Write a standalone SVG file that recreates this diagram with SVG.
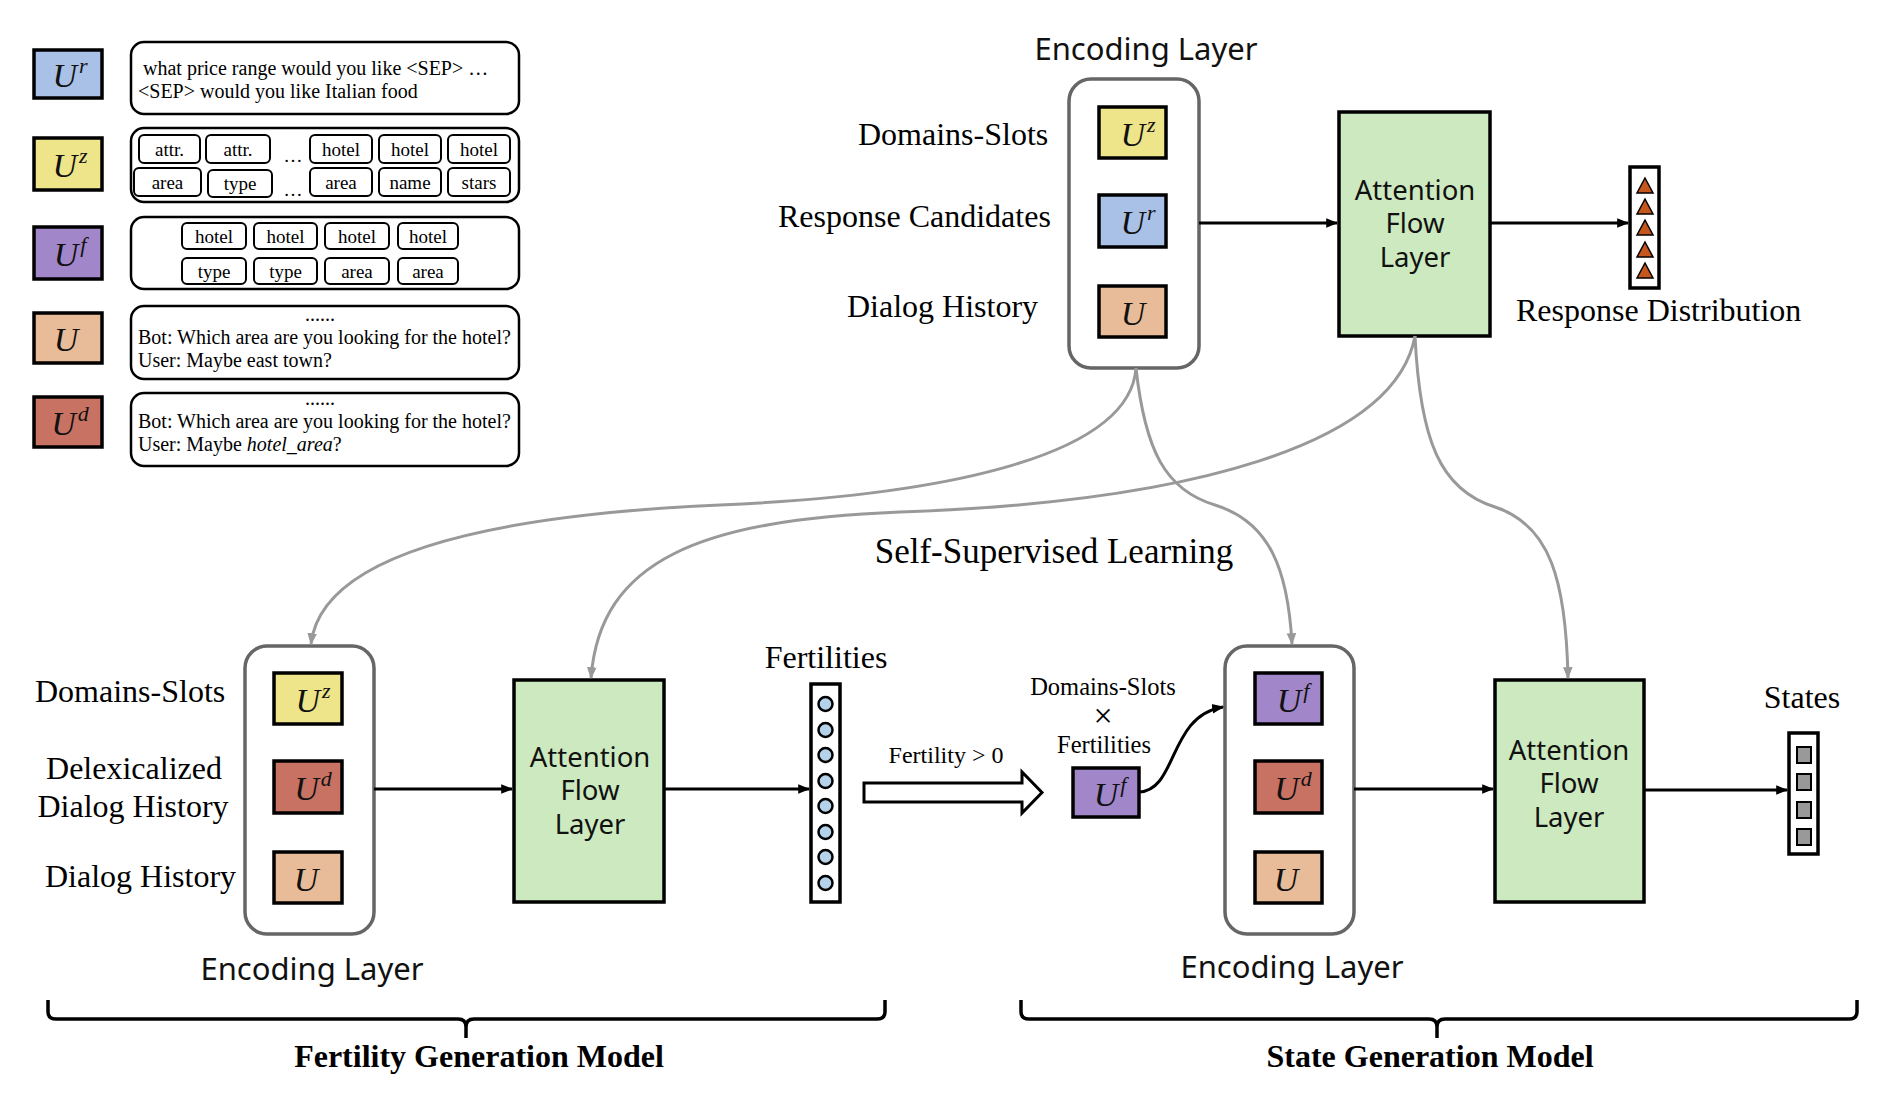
<svg xmlns="http://www.w3.org/2000/svg" width="1884" height="1094" viewBox="0 0 1884 1094">
<defs>
<style>
.serif{font-family:"Liberation Serif","Times New Roman",serif;fill:#000}
.sans{font-family:"Noto Sans","DejaVu Sans",sans-serif;fill:#111}
.lbl{font-size:32px}
.leg{font-size:20px}
.tag{font-size:19px;text-anchor:middle}
.mid{text-anchor:middle}
.u{font-family:"Liberation Serif","Times New Roman",serif;font-style:italic;font-size:34px;text-anchor:middle;fill:#111}
.sup{font-size:22px}
.ubox{stroke:#000;stroke-width:3.5}
.tbox{fill:#fff;stroke:#000;stroke-width:2.5}
.chip{fill:#fff;stroke:#000;stroke-width:2}
.cont{fill:#fff;stroke:#666;stroke-width:3.5}
.afl{fill:#cde9bf;stroke:#000;stroke-width:3.5}
.aflt{font-family:"Noto Sans","DejaVu Sans",sans-serif;fill:#111;font-size:27.5px;text-anchor:middle}
.vec{fill:#fff;stroke:#000;stroke-width:3.5}
.blk{fill:none;stroke:#000;stroke-width:3}
.gry{fill:none;stroke:#999;stroke-width:3}
.ur{fill:#a9c1e6}.uz{fill:#eee48a}.uf{fill:#a186c9}.uu{fill:#e9bc99}.ud{fill:#c87264}
.circ{fill:#b4d3ea;stroke:#000;stroke-width:2.5}
.tri{fill:#c4561e;stroke:#000;stroke-width:1.5}
.sq{fill:#999;stroke:#000;stroke-width:2}
.brace{fill:none;stroke:#000;stroke-width:3.5}
.bold{font-weight:bold;font-size:32px;text-anchor:middle}
</style>
<marker id="ab" viewBox="0 0 10 10" refX="9" refY="5" markerWidth="4" markerHeight="4" orient="auto"><path d="M0,1 L10,5 L0,9 z" fill="#000"/></marker>
<marker id="ag" viewBox="0 0 10 10" refX="9" refY="5" markerWidth="4" markerHeight="4" orient="auto"><path d="M0,1 L10,5 L0,9 z" fill="#999"/></marker>
</defs>
<rect width="1884" height="1094" fill="#fff"/>

<!-- Legend -->
<g id="legend-ur">
<rect class="ubox ur" x="34" y="50" width="68" height="48"/>
<text class="u" x="70" y="87">U<tspan class="sup" dx="2" dy="-14">r</tspan></text>
<rect class="tbox" x="131" y="42" width="388" height="72" rx="13"/>
<text class="serif leg" x="143" y="75">what price range would you like &lt;SEP&gt;  …</text>
<text class="serif leg" x="138" y="98">&lt;SEP&gt; would you like Italian food</text>
</g>
<g id="legend-uz">
<rect class="ubox uz" x="34" y="138" width="68" height="52"/>
<text class="u" x="70" y="177">U<tspan class="sup" dx="2" dy="-14">z</tspan></text>
<rect class="tbox" x="131" y="128" width="388" height="74" rx="13"/>
<rect class="chip" x="139" y="135" width="61" height="28" rx="5"/><text class="serif tag" x="169.5" y="156">attr.</text>
<rect class="chip" x="206" y="135" width="64" height="28" rx="5"/><text class="serif tag" x="238" y="156">attr.</text>
<text class="serif tag" x="293" y="162" font-size="28">…</text>
<rect class="chip" x="310" y="135" width="62" height="28" rx="5"/><text class="serif tag" x="341" y="156">hotel</text>
<rect class="chip" x="379" y="135" width="62" height="28" rx="5"/><text class="serif tag" x="410" y="156">hotel</text>
<rect class="chip" x="448" y="135" width="62" height="28" rx="5"/><text class="serif tag" x="479" y="156">hotel</text>
<rect class="chip" x="134" y="168" width="67" height="28" rx="5"/><text class="serif tag" x="167.5" y="189">area</text>
<rect class="chip" x="208" y="170" width="64" height="27" rx="5"/><text class="serif tag" x="240" y="190">type</text>
<text class="serif tag" x="293" y="196" font-size="28">…</text>
<rect class="chip" x="310" y="168" width="62" height="28" rx="5"/><text class="serif tag" x="341" y="189">area</text>
<rect class="chip" x="379" y="168" width="62" height="28" rx="5"/><text class="serif tag" x="410" y="189">name</text>
<rect class="chip" x="448" y="168" width="62" height="28" rx="5"/><text class="serif tag" x="479" y="189">stars</text>
</g>
<g id="legend-uf">
<rect class="ubox uf" x="34" y="227" width="68" height="52"/>
<text class="u" x="70" y="266">U<tspan class="sup" dx="2" dy="-14">f</tspan></text>
<rect class="tbox" x="131" y="217" width="388" height="72" rx="13"/>
<rect class="chip" x="182" y="223" width="64" height="26" rx="5"/><text class="serif tag" x="214" y="243">hotel</text>
<rect class="chip" x="254" y="223" width="63" height="26" rx="5"/><text class="serif tag" x="285.5" y="243">hotel</text>
<rect class="chip" x="325" y="223" width="64" height="26" rx="5"/><text class="serif tag" x="357" y="243">hotel</text>
<rect class="chip" x="398" y="223" width="60" height="26" rx="5"/><text class="serif tag" x="428" y="243">hotel</text>
<rect class="chip" x="182" y="258" width="64" height="26" rx="5"/><text class="serif tag" x="214" y="278">type</text>
<rect class="chip" x="254" y="258" width="63" height="26" rx="5"/><text class="serif tag" x="285.5" y="278">type</text>
<rect class="chip" x="325" y="258" width="64" height="26" rx="5"/><text class="serif tag" x="357" y="278">area</text>
<rect class="chip" x="398" y="258" width="60" height="26" rx="5"/><text class="serif tag" x="428" y="278">area</text>
</g>
<g id="legend-u">
<rect class="ubox uu" x="34" y="313" width="68" height="50"/>
<text class="u" x="66" y="351">U</text>
<rect class="tbox" x="131" y="306" width="388" height="73" rx="13"/>
<text class="serif leg mid" x="320" y="321">......</text>
<text class="serif leg" x="138" y="344">Bot: Which area are you looking for the hotel?</text>
<text class="serif leg" x="138" y="367">User: Maybe east town?</text>
</g>
<g id="legend-ud">
<rect class="ubox ud" x="34" y="397" width="68" height="50"/>
<text class="u" x="70" y="435">U<tspan class="sup" dx="2" dy="-14">d</tspan></text>
<rect class="tbox" x="131" y="393" width="388" height="73" rx="13"/>
<text class="serif leg mid" x="320" y="405">......</text>
<text class="serif leg" x="138" y="428">Bot: Which area are you looking for the hotel?</text>
<text class="serif leg" x="138" y="451">User: Maybe <tspan font-style="italic">hotel_area</tspan>?</text>
</g>

<!-- Top encoding layer -->
<g id="top-encoding">
<text class="sans mid" x="1146" y="60" font-size="31">Encoding Layer</text>
<rect class="cont" x="1069" y="79" width="130" height="289" rx="22"/>
<rect class="ubox uz" x="1099" y="107" width="67" height="51"/>
<text class="u" x="1138" y="146">U<tspan class="sup" dx="2" dy="-14">z</tspan></text>
<rect class="ubox ur" x="1099" y="195" width="67" height="52"/>
<text class="u" x="1138" y="234">U<tspan class="sup" dx="2" dy="-14">r</tspan></text>
<rect class="ubox uu" x="1099" y="286" width="67" height="51"/>
<text class="u" x="1133" y="325">U</text>
<text class="serif lbl" x="858" y="145">Domains-Slots</text>
<text class="serif lbl" x="778" y="227">Response Candidates</text>
<text class="serif lbl" x="847" y="317">Dialog History</text>
</g>
<g id="top-afl">
<rect class="afl" x="1339" y="112" width="151" height="224"/>
<text class="aflt" x="1415" y="200">Attention</text>
<text class="aflt" x="1415" y="233">Flow</text>
<text class="aflt" x="1415" y="267">Layer</text>
</g>
<g id="response-distribution">
<rect class="vec" x="1630" y="167" width="29" height="121"/>
<path class="tri" d="M1645,178 L1653,193 L1637,193 Z"/>
<path class="tri" d="M1645,199 L1653,214 L1637,214 Z"/>
<path class="tri" d="M1645,220 L1653,235 L1637,235 Z"/>
<path class="tri" d="M1645,242 L1653,257 L1637,257 Z"/>
<path class="tri" d="M1645,263 L1653,278 L1637,278 Z"/>
<text class="serif lbl" x="1516" y="321">Response Distribution</text>
</g>

<!-- Fertility generation model -->
<g id="fert-encoding">
<rect class="cont" x="245" y="646" width="129" height="288" rx="22"/>
<rect class="ubox uz" x="274" y="673" width="68" height="51"/>
<text class="u" x="313" y="712">U<tspan class="sup" dx="2" dy="-14">z</tspan></text>
<rect class="ubox ud" x="274" y="761" width="68" height="52"/>
<text class="u" x="313" y="800">U<tspan class="sup" dx="2" dy="-14">d</tspan></text>
<rect class="ubox uu" x="274" y="852" width="68" height="51"/>
<text class="u" x="306" y="891">U</text>
<text class="serif lbl" x="35" y="702">Domains-Slots</text>
<text class="serif lbl mid" x="134" y="779">Delexicalized</text>
<text class="serif lbl mid" x="133" y="817">Dialog History</text>
<text class="serif lbl" x="45" y="887">Dialog History</text>
<text class="sans mid" x="312" y="980" font-size="31">Encoding Layer</text>
</g>
<g id="fert-afl">
<rect class="afl" x="514" y="680" width="150" height="222"/>
<text class="aflt" x="590" y="767">Attention</text>
<text class="aflt" x="590" y="800">Flow</text>
<text class="aflt" x="590" y="834">Layer</text>
</g>
<g id="fertilities">
<rect class="vec" x="811" y="684" width="29" height="218"/>
<circle class="circ" cx="825.5" cy="704" r="7"/>
<circle class="circ" cx="825.5" cy="730" r="7"/>
<circle class="circ" cx="825.5" cy="755" r="7"/>
<circle class="circ" cx="825.5" cy="781" r="7"/>
<circle class="circ" cx="825.5" cy="806" r="7"/>
<circle class="circ" cx="825.5" cy="832" r="7"/>
<circle class="circ" cx="825.5" cy="857" r="7"/>
<circle class="circ" cx="825.5" cy="883" r="7"/>
<text class="serif lbl mid" x="826" y="668">Fertilities</text>
</g>
<g id="fertility-filter">
<path d="M864,783 L1022,783 L1022,772 L1042,792.5 L1022,813 L1022,802 L864,802 Z" fill="#fff" stroke="#000" stroke-width="3"/>
<text class="serif mid" x="946" y="763" font-size="24">Fertility &gt; 0</text>
</g>
<g id="uf-input">
<text class="serif mid" x="1103" y="695" font-size="24.5">Domains-Slots</text>
<text class="serif mid" x="1103" y="727" font-size="34">×</text>
<text class="serif mid" x="1104" y="753" font-size="24.5">Fertilities</text>
<rect class="ubox uf" x="1073" y="768" width="66" height="49"/>
<text class="u" x="1110" y="806">U<tspan class="sup" dx="2" dy="-14">f</tspan></text>
</g>

<!-- State generation model -->
<g id="state-encoding">
<rect class="cont" x="1225" y="646" width="129" height="288" rx="22"/>
<rect class="ubox uf" x="1255" y="673" width="67" height="51"/>
<text class="u" x="1293" y="712">U<tspan class="sup" dx="2" dy="-14">f</tspan></text>
<rect class="ubox ud" x="1255" y="761" width="67" height="52"/>
<text class="u" x="1293" y="800">U<tspan class="sup" dx="2" dy="-14">d</tspan></text>
<rect class="ubox uu" x="1255" y="852" width="67" height="51"/>
<text class="u" x="1286" y="891">U</text>
<text class="sans mid" x="1292" y="978" font-size="31">Encoding Layer</text>
</g>
<g id="state-afl">
<rect class="afl" x="1495" y="680" width="149" height="222"/>
<text class="aflt" x="1569" y="760">Attention</text>
<text class="aflt" x="1569" y="793">Flow</text>
<text class="aflt" x="1569" y="827">Layer</text>
</g>
<g id="states">
<rect class="vec" x="1789" y="733" width="29" height="121"/>
<rect class="sq" x="1797" y="747" width="14" height="16"/>
<rect class="sq" x="1797" y="774" width="14" height="16"/>
<rect class="sq" x="1797" y="802" width="14" height="16"/>
<rect class="sq" x="1797" y="829" width="14" height="16"/>
<text class="serif lbl mid" x="1802" y="708">States</text>
</g>

<text class="serif mid" x="1054" y="563" font-size="35">Self-Supervised Learning</text>

<!-- Connectors -->
<g id="connectors">
<path class="blk" d="M1199,223 L1337,223" marker-end="url(#ab)"/>
<path class="blk" d="M1490,223 L1628,223" marker-end="url(#ab)"/>
<path class="blk" d="M374,789 L512,789" marker-end="url(#ab)"/>
<path class="blk" d="M664,789 L809,789" marker-end="url(#ab)"/>
<path class="blk" d="M1354,789 L1493,789" marker-end="url(#ab)"/>
<path class="blk" d="M1644,790 L1787,790" marker-end="url(#ab)"/>
<path class="blk" d="M1139,792 C1178,790 1168,716 1223,707" marker-end="url(#ab)"/>
<path class="gry" d="M1136,368 C1130,455 950,495 720,505 C450,517 320,565 311,644" marker-end="url(#ag)"/>
<path class="gry" d="M1415,336 C1395,445 1190,502 900,512 C700,520 600,560 591,678" marker-end="url(#ag)"/>
<path class="gry" d="M1136,368 C1145,450 1165,490 1215,505 C1270,522 1288,570 1292,644" marker-end="url(#ag)"/>
<path class="gry" d="M1415,336 C1420,440 1440,490 1495,507 C1550,525 1566,580 1568,678" marker-end="url(#ag)"/>
</g>

<!-- Brackets -->
<g id="fertility-model-brace">
<path class="brace" d="M48,1000 L48,1012 Q48,1019 56,1019 L458,1019 Q466,1019 466,1027 L466,1038 M466,1027 Q466,1019 474,1019 L877,1019 Q885,1019 885,1012 L885,1000"/>
<text class="serif bold" x="479" y="1067">Fertility Generation Model</text>
</g>
<g id="state-model-brace">
<path class="brace" d="M1021,1000 L1021,1012 Q1021,1019 1029,1019 L1429,1019 Q1437,1019 1437,1027 L1437,1038 M1437,1027 Q1437,1019 1445,1019 L1849,1019 Q1857,1019 1857,1012 L1857,1000"/>
<text class="serif bold" x="1430" y="1067">State Generation Model</text>
</g>
</svg>
